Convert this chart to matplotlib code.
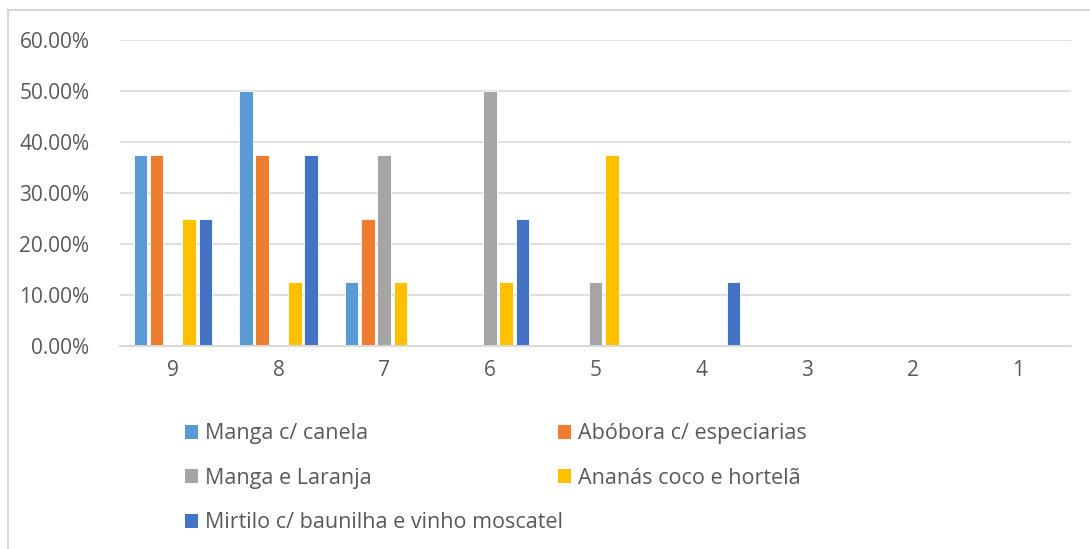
import numpy as np
import matplotlib.pyplot as plt
from matplotlib.patches import Rectangle
from matplotlib.ticker import PercentFormatter

plt.rcParams['font.family'] = ['Open Sans', 'DejaVu Sans']

# categorias e séries
categorias = ['9', '8', '7', '6', '5', '4', '3', '2', '1']
series = ['Manga c/ canela', 'Abóbora c/ especiarias', 'Manga e Laranja',
          'Ananás coco e hortelã', 'Mirtilo c/ baunilha e vinho moscatel']
manga_canela = [0.375, 0.50, 0.125, 0, 0, 0, 0, 0, 0]
abobora = [0.375, 0.375, 0.25, 0, 0, 0, 0, 0, 0]
manga_laranja = [0, 0, 0.375, 0.50, 0.125, 0, 0, 0, 0]
ananas = [0.25, 0.125, 0.125, 0.125, 0.375, 0, 0, 0, 0]
mirtilo = [0.25, 0.375, 0, 0.25, 0, 0.125, 0, 0, 0]
cores = ['#5B9BD5', '#ED7D31', '#A5A5A5', '#FFC000', '#4472C4']

valores = [manga_canela, abobora, manga_laranja, ananas, mirtilo]

fig = plt.figure(figsize=(10.9, 5.49), dpi=100)
ax = fig.add_axes([120/1090, 1-346/549, 951/1090, 306/549])

x = np.arange(len(categorias))
passo = 0.154
largura = 0.128
barras = []
for i, (nome, v) in enumerate(zip(series, valores)):
    b = ax.bar(x + (i-2)*passo, v, width=largura, color=cores[i], label=nome,
               edgecolor='white', linewidth=0.6)
    barras.append(b)

ax.set_xlim(-0.5, len(categorias)-0.5)
ax.set_ylim(0, 0.6)
ax.set_yticks(np.arange(0, 0.61, 0.1))
ax.yaxis.set_major_formatter(PercentFormatter(1.0, decimals=2))
ax.set_xticks(x)
ax.set_xticklabels(categorias)
ax.grid(axis='y', color='#D9D9D9', linewidth=1.2)
ax.set_axisbelow(True)
for s in ['top', 'right', 'left']:
    ax.spines[s].set_visible(False)
ax.spines['bottom'].set_color('#D9D9D9')
ax.spines['bottom'].set_linewidth(1.4)
ax.tick_params(length=0, labelsize=15, colors='#595959', pad=10)
ax.tick_params(axis='y', pad=22)

# ordem por linhas (como no Excel)
ordem = [0, 2, 4, 1, 3]
leg = fig.legend([barras[i] for i in ordem], [series[i] for i in ordem],
                 loc='upper left', bbox_to_anchor=(166/1090, 1-404/549), ncol=2,
                 frameon=False, fontsize=15.5, labelcolor='#595959',
                 handlelength=0.6, handleheight=0.6, handletextpad=0.3,
                 labelspacing=1.09, columnspacing=-0.2)
for h in leg.legend_handles:
    h.set_edgecolor('none')

# moldura do gráfico
fig.add_artist(Rectangle((8/1090, -0.1), 1.2, 1.1 - 10.5/549, transform=fig.transFigure,
                         fill=False, edgecolor='#D9D9D9', linewidth=1.5))

fig.savefig('out.png', dpi=100)
